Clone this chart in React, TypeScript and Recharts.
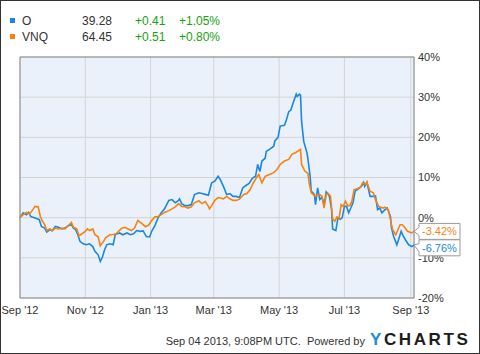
import { Line, LineChart, CartesianGrid, XAxis, YAxis, ReferenceArea } from 'recharts';

// day 0 = Sep 1 2012, values are % change since start
const tickDays = [0, 61, 122, 181, 242, 303, 365];
const tickLabels = ["Sep '12", "Nov '12", "Jan '13", "Mar '13", "May '13", "Jul '13", "Sep '13"];
const yTicks = [-20, -10, 0, 10, 20, 30, 40];

const oDays = [
  0, 3, 6, 8, 10, 12, 16, 18, 20, 23, 25, 28, 30, 33, 36, 39, 42, 45, 48, 50, 52, 54, 56, 59, 62, 65, 68, 70, 73, 75,
  77, 79, 81, 84, 87, 89, 93, 96, 100, 103, 106, 109, 112, 115, 118, 121, 123, 126, 129, 132, 135, 139, 142, 145, 148,
  149, 151, 154, 157, 160, 163, 167, 170, 173, 176, 179, 182, 185, 187, 190, 193, 196, 199, 202, 205, 208, 211, 214,
  217, 220, 222, 224, 226, 229, 230, 233, 237, 238, 241, 243, 247, 249, 251, 253, 255, 258, 259, 261, 262, 263, 265,
  268, 269, 271, 272, 275, 276, 278, 280, 282, 284, 286, 288, 289, 291, 292, 295, 297, 299, 301, 303, 305, 307, 309,
  311, 313, 316, 319, 321, 322, 324, 327, 330, 332, 334, 336, 338, 341, 343, 346, 347, 349, 352, 354, 356, 358, 360,
  363, 366, 368,
];
const oValues = [
  0, 1.2, 0.75, 1.3, 0.3, 0.1, -0.3, -0.5, -2.2, -2.6, -3.6, -3, -3.25, -2.2, -2.4, -2.8, -2.6, -2, -1.75, -2.6, -3,
  -4.25, -5.9, -6.5, -6.75, -6.5, -7.2, -8.4, -9.25, -10.9, -9.8, -8, -6.75, -6.5, -6.75, -4.2, -3.8, -4.25, -3.8,
  -4.25, -4, -3.2, -3.4, -3.3, -4.7, -4.8, -3.4, -2, 0, 1.2, 2.2, 4.3, 4.5, 3.7, 4.3, 4.7, 3.5, 3, 3, 3.25, 5.75, 6.2,
  6, 5.8, 5.6, 8.7, 9.1, 10.3, 9.5, 7.8, 5.75, 6, 5.3, 5.3, 5, 7.4, 8, 8.5, 9.8, 10.3, 13.25, 11.5, 14.1, 14.8, 16.5,
  17, 17.8, 19.1, 20, 22.8, 23, 24.5, 26.4, 26.8, 28.5, 30.75, 30.2, 30.75, 30.5, 24, 19, 16.2, 14.5, 10.3, 6.6,
  5.75, 3.25, 7.4, 4.5, 5.1, 3.25, 6.4, 5.75, 5.3, 2, -2.8, -3.2, 0, -0.4, 0, 2.8, 2.8, 1.2, 2.4, 3.7, 6.6, 7.2, 7.8,
  8.8, 7.8, 8.8, 5.3, 5.3, 5.4, 2, 2.4, 1.2, 2, 2.4, 0.3, -2.6, -4.7, -6.75, -5.1, -3.4, -4.6, -5.5, -6.75, -7.2, -6.76,
];

const vnqDays = [
  0, 3, 6, 9, 12, 14, 17, 19, 21, 23, 25, 28, 30, 33, 36, 39, 42, 45, 48, 50, 53, 55, 58, 61, 63, 65, 68, 70, 73, 75,
  78, 80, 84, 87, 90, 92, 95, 98, 101, 104, 107, 110, 114, 117, 120, 123, 126, 129, 132, 135, 139, 142, 145, 148, 151,
  154, 157, 160, 163, 167, 170, 173, 176, 177, 179, 182, 185, 187, 190, 193, 196, 199, 202, 205, 209, 212, 215, 218,
  221, 223, 226, 229, 233, 237, 240, 243, 247, 251, 254, 258, 262, 263, 266, 269, 270, 272, 274, 276, 278, 280, 282,
  284, 286, 288, 290, 292, 294, 296, 298, 300, 302, 304, 306, 308, 310, 312, 315, 318, 320, 323, 324, 327, 330, 332,
  335, 337, 339, 341, 344, 346, 348, 351, 353, 355, 357, 359, 362, 366, 368,
];
const vnqValues = [
  0, 0.75, 1.3, 0.9, 2, 2.8, 2.7, 0.3, -0.9, -1.75, -3.2, -2.75, -3.25, -2.6, -2.8, -2.6, -2.8, -2, -1.2, -2.4, -2.8,
  -4.5, -4, -3.4, -2.8, -3.2, -2.8, -4.25, -4.75, -7, -5.9, -5, -4.25, -4.2, -4, -3.4, -2.6, -2.4, -2.8, -3.2, -2.6,
  -0.7, -1.5, -2.25, -1.9, -0.7, 0.2, 0.3, 0.75, 1.3, 1.75, 2.2, 2.7, 3.5, 2.8, 2.7, 2.4, 2.7, 3.7, 4.2, 3.5, 4, 2.8,
  2.2, 3, 4.3, 5, 4.9, 4.7, 5.3, 4.7, 4.3, 4.3, 4.6, 5.75, 6, 7, 8.7, 10, 10.75, 8.7, 10.3, 10.75, 11.2, 12, 13.25,
  14.1, 14.5, 15.75, 16.3, 17, 13.25, 11.6, 11, 8.7, 6.2, 5.75, 5.3, 5.75, 5.75, 5.3, 2.4, 5.75, 6, 5.3, -0.3, -0.9,
  0.2, -0.2, 3.25, 2.8, 4.1, 3, 3, 4.1, 7, 7.2, 7.6, 8.7, 8.3, 8.8, 6.6, 6.2, 4.5, 2.8, 2.6, 2.4, 2.6, 2, -0.5, -3,
  -4.25, -3, -1.75, -1.75, -2.3, -3.4, -3.8, -3.42,
];

const oData = oDays.map((day, i) => ({ day, value: oValues[i] }));
const vnqData = vnqDays.map((day, i) => ({ day, value: vnqValues[i] }));

const BLUE = '#1b87e0';
const ORANGE = '#f7830f';
const FONT = 'Arial, "Liberation Sans", sans-serif';

function callout(color: string, last: number, shift: number) {
  return (props: any) => {
    if (props.index !== last) return null;
    const x = props.x;
    const y = props.y;
    const cy = y + shift;
    const v = props.value as number;
    const d = `M${x},${y} L${x + 5},${cy - 4} L${x + 5},${cy - 8} L${x + 46},${cy - 8} L${x + 46},${cy + 8} L${x + 5},${cy + 8} L${x + 5},${cy + 4} Z`;
    return (
      <g key="callout">
        <path d={d} fill="#fff" stroke="#999" strokeWidth={1} />
        <text x={x + 8} y={cy + 4} fontSize={11} fill={color} fontFamily={FONT}>
          {v.toFixed(2)}%
        </text>
      </g>
    );
  };
}

const legendRows = [
  { name: 'O', color: BLUE, price: '39.28', chg: '+0.41', pct: '+1.05%' },
  { name: 'VNQ', color: ORANGE, price: '64.45', chg: '+0.51', pct: '+0.80%' },
];

export default function App() {
  return (
    <div style={{ position: 'relative', width: 480, height: 354, fontFamily: FONT, background: '#fff' }}>
      <style>{'body{margin:0}'}</style>
      {legendRows.map((r, i) => (
        <div key={r.name} style={{ position: 'absolute', top: 14 + i * 16, left: 0, height: 14, fontSize: 12, color: '#333', lineHeight: '14px' }}>
          <span style={{ position: 'absolute', left: 10, top: 4, width: 5, height: 5, background: r.color }} />
          <span style={{ position: 'absolute', left: 22 }}>{r.name}</span>
          <span style={{ position: 'absolute', left: 82 }}>{r.price}</span>
          <span style={{ position: 'absolute', left: 135, color: '#17a10f' }}>{r.chg}</span>
          <span style={{ position: 'absolute', left: 179, color: '#17a10f', whiteSpace: 'nowrap' }}>{r.pct}</span>
        </div>
      ))}
      <div style={{ position: 'absolute', left: 0, top: 0 }}>
        <LineChart width={480} height={354} margin={{ top: 57, right: 0, bottom: 36, left: 20 }}>
          <CartesianGrid fill="#eaf1fb" stroke="#d4d4d4" />
          <XAxis
            dataKey="day"
            type="number"
            domain={[0, 368]}
            ticks={tickDays}
            tickFormatter={(v) => tickLabels[tickDays.indexOf(v)]}
            tickLine={false}
            axisLine={false}
            height={20}
            tick={{ fontSize: 11, fill: '#333', fontFamily: FONT }}
          />
          <YAxis
            orientation="right"
            type="number"
            domain={[-20, 40]}
            ticks={yTicks}
            tickFormatter={(v) => `${v}%`}
            tickLine={false}
            axisLine={false}
            tickSize={0}
            tickMargin={4}
            width={66}
            tick={{ fontSize: 11, fill: '#333', fontFamily: FONT }}
          />
          <ReferenceArea x1={0} x2={368} y1={-20} y2={40} fill="none" stroke="#888" strokeWidth={1} ifOverflow="visible" />
          <Line
            data={oData}
            dataKey="value"
            stroke={BLUE}
            strokeWidth={1.6}
            dot={false}
            isAnimationActive={false}
            label={callout(BLUE, oData.length - 1, 3)}
          />
          <Line
            data={vnqData}
            dataKey="value"
            stroke={ORANGE}
            strokeWidth={1.6}
            dot={false}
            isAnimationActive={false}
            label={callout(ORANGE, vnqData.length - 1, 0)}
          />
        </LineChart>
      </div>
      <div style={{ position: 'absolute', right: 115, top: 335, fontSize: 11, color: '#333', whiteSpace: 'nowrap' }}>
        Sep 04 2013, 9:08PM UTC.&nbsp; Powered by
      </div>
      <div style={{ position: 'absolute', left: 370, top: 330, fontSize: 17, fontWeight: 'bold', letterSpacing: 2.6, whiteSpace: 'nowrap', color: '#1c1c1c' }}>
        <span style={{ color: '#1a8ddb' }}>Y</span>CHARTS
      </div>
      <div style={{ position: 'absolute', left: 0, top: 0, width: 480, height: 354, boxSizing: 'border-box', border: '1px solid #333', pointerEvents: 'none' }} />
    </div>
  );
}
